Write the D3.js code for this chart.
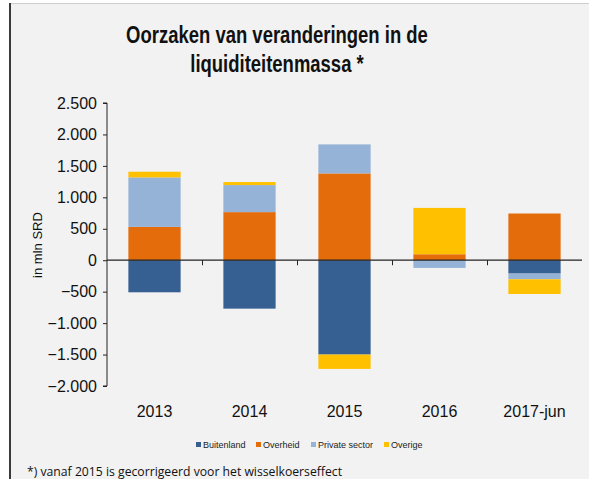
<!DOCTYPE html>
<html>
<head>
<meta charset="utf-8">
<script src="https://cdn.jsdelivr.net/npm/d3@7"></script>
<style>
  body { margin: 0; background: #fff; }
  svg { display: block; }
</style>
</head>
<body>
<script>
(function(){

// data
var years = ["2013", "2014", "2015", "2016", "2017-jun"];
var seriesNames = ["Buitenland", "Overheid", "Private sector", "Overige"];
var buitenland = [-510, -770, -1500, 0, -212];
var overheid = [530, 765, 1380, 95, 743];
var privateSector = [787, 430, 462, -122, -91];
var overige = [90, 48, -228, 737, -234];
var yTicks = [-2000, -1500, -1000, -500, 0, 500, 1000, 1500, 2000, 2500];
var colors = ["#376092", "#E46C0A", "#95B3D7", "#FFC000"];

var width = 589, height = 479;

// build rows for d3.stack
var rows = years.map(function(y, i){
    return {
        year: y,
        "Buitenland": buitenland[i],
        "Overheid": overheid[i],
        "Private sector": privateSector[i],
        "Overige": overige[i]
    };
});

var svg = d3.select("body")
    .append("svg")
    .attr("width", width)
    .attr("height", height);

// frame
svg.append("rect")
    .attr("x", 9).attr("y", 3)
    .attr("width", width - 9).attr("height", height - 3)
    .attr("fill", "#f2f2f2");
svg.append("line")
    .attr("x1", 9).attr("x2", width).attr("y1", 3.5).attr("y2", 3.5)
    .attr("stroke", "#cfcfcf");
svg.append("line")
    .attr("x1", 10).attr("x2", 10).attr("y1", 3).attr("y2", height)
    .attr("stroke", "#3a3a3a").attr("stroke-width", 2);

// title (squeezed to look like a narrow font)
var title = svg.append("text")
    .attr("transform", "translate(277,0) scale(0.77,1)")
    .attr("text-anchor", "middle")
    .attr("font-family", "'Liberation Sans Narrow', 'Arial Narrow', 'Liberation Sans', sans-serif")
    .attr("font-weight", "bold")
    .attr("font-size", 24)
    .attr("fill", "#111");
title.append("tspan").attr("x", 0).attr("y", 43).text("Oorzaken van veranderingen in de");
title.append("tspan").attr("x", 0).attr("y", 72).text("liquiditeitenmassa *");

// scales
var x = d3.scaleBand()
    .domain(years)
    .range([107, 582])
    .paddingInner(0.45)
    .paddingOuter(0.225);

var y = d3.scaleLinear()
    .domain([-2000, 2500])
    .range([386, 103]);

var stack = d3.stack()
    .keys(seriesNames)
    .offset(d3.stackOffsetDiverging);
var stacked = stack(rows);

// bars
svg.selectAll(".series")
    .data(stacked)
    .enter()
    .append("g")
    .attr("class", "series")
    .attr("fill", function(d, i){ return colors[i]; })
    .selectAll("rect")
    .data(function(d){ return d; })
    .enter()
    .append("rect")
    .attr("x", function(d){ return x(d.data.year); })
    .attr("width", x.bandwidth())
    .attr("y", function(d){ return y(Math.max(d[0], d[1])); })
    .attr("height", function(d){ return Math.abs(y(d[0]) - y(d[1])); });

// y axis
var yAxis = svg.append("g")
    .attr("transform", "translate(107,0)")
    .call(d3.axisLeft(y).tickValues(yTicks).tickSize(4).tickPadding(6)
        .tickFormat(function(d){ return d3.format(",")(d).replace(/,/g, "."); }));
yAxis.select(".domain").attr("stroke", "#222").attr("d", "M-4," + y(2500) + "H0V" + y(-2000) + "H-4");
yAxis.selectAll("line").attr("stroke", "#222");
yAxis.selectAll("text")
    .attr("font-family", "'Liberation Sans', Arial, sans-serif")
    .attr("font-size", 16)
    .attr("fill", "#111");

// zero line with category ticks
var xAxis = svg.append("g")
    .attr("transform", "translate(0," + y(0) + ")");
xAxis.append("line")
    .attr("x1", 107).attr("x2", 582)
    .attr("stroke", "#222").attr("stroke-width", 1.3);
xAxis.selectAll(".ctick")
    .data(years.slice(1))
    .enter()
    .append("line")
    .attr("class", "ctick")
    .attr("x1", function(d){ return Math.round(x(d) - x.step() * x.paddingInner() / 2) + 0.5; })
    .attr("x2", function(d){ return Math.round(x(d) - x.step() * x.paddingInner() / 2) + 0.5; })
    .attr("y1", 0).attr("y2", 5)
    .attr("stroke", "#222");

// category labels
svg.selectAll(".clabel")
    .data(years)
    .enter()
    .append("text")
    .attr("class", "clabel")
    .attr("x", function(d){ return x(d) + x.bandwidth() / 2; })
    .attr("y", 417)
    .attr("text-anchor", "middle")
    .attr("font-family", "'Liberation Sans', Arial, sans-serif")
    .attr("font-size", 16)
    .attr("fill", "#111")
    .text(function(d){ return d; });

// y axis title
svg.append("text")
    .attr("transform", "translate(42,245) rotate(-90)")
    .attr("text-anchor", "middle")
    .attr("font-family", "'Liberation Sans', Arial, sans-serif")
    .attr("font-size", 13)
    .attr("fill", "#111")
    .text("in mln SRD");

// legend
var legendX = [196, 256, 311, 384];
var legend = svg.selectAll(".legend")
    .data(seriesNames)
    .enter()
    .append("g")
    .attr("class", "legend")
    .attr("transform", function(d, i){ return "translate(" + legendX[i] + ",442)"; });
legend.append("rect")
    .attr("width", 5).attr("height", 5)
    .attr("fill", function(d, i){ return colors[i]; });
legend.append("text")
    .attr("x", 7).attr("y", 6)
    .attr("font-family", "'Liberation Sans Narrow', 'Arial Narrow', 'Liberation Sans', sans-serif")
    .attr("font-size", 9)
    .attr("fill", "#222")
    .text(function(d){ return d; });

// footnote
svg.append("text")
    .attr("x", 27).attr("y", 476)
    .attr("font-family", "'Open Sans', 'Liberation Sans', sans-serif")
    .attr("font-size", 13)
    .attr("textLength", 315)
    .attr("lengthAdjust", "spacingAndGlyphs")
    .attr("fill", "#111")
    .text("*) vanaf 2015 is  gecorrigeerd voor het wisselkoerseffect");

})();
</script>
</body>
</html>
